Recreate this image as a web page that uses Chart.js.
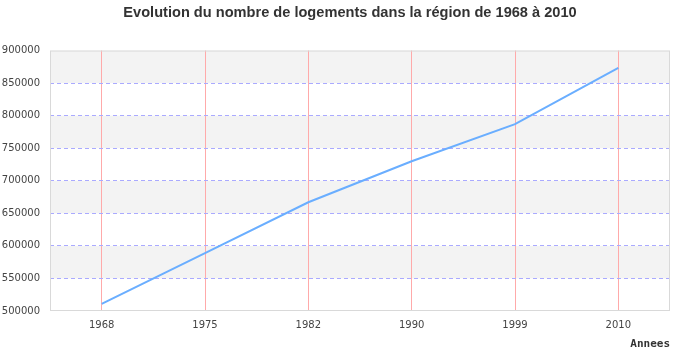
<!DOCTYPE html>
<html>
<head>
<meta charset="utf-8">
<script src="https://cdn.jsdelivr.net/npm/chart.js@4"></script>
<style>
  body { margin: 0; background: #fff; }
  #chart { display: block; }
</style>
</head>
<body>
<canvas id="chart" width="700" height="350"></canvas>
<script>
// data
const annees = ['1968', '1975', '1982', '1990', '1999', '2010'];
const logements = [511000, 589000, 667000, 730000, 787000, 873500];

// grey / white stripes between the y ticks + plot frame
const bandsPlugin = {
  id: 'bands',
  beforeDraw(chart) {
    const { ctx, chartArea, scales } = chart;
    const y = scales.y;
    ctx.save();
    ctx.fillStyle = '#ffffff';
    ctx.fillRect(0, 0, chart.width, chart.height);
    const ticks = y.ticks;
    for (let i = ticks.length - 1; i > 0; i--) {
      // from the top: first band grey, then alternate
      if ((ticks.length - 1 - i) % 2 === 0) {
        const top = y.getPixelForValue(ticks[i].value);
        const bottom = y.getPixelForValue(ticks[i - 1].value);
        ctx.fillStyle = '#f3f3f3';
        ctx.fillRect(chartArea.left, top, chartArea.right - chartArea.left, bottom - top);
      }
    }
    ctx.restore();
  },
  afterDatasetsDraw(chart) {
    const { ctx, chartArea } = chart;
    ctx.save();
    ctx.strokeStyle = '#d9d9d9';
    ctx.lineWidth = 1;
    ctx.strokeRect(chartArea.left + 0.5, chartArea.top + 0.5,
      chartArea.right - chartArea.left - 1, chartArea.bottom - chartArea.top - 1);
    ctx.restore();
  }
};

const chart = new Chart(document.getElementById('chart'), {
  type: 'line',
  data: {
    labels: annees,
    datasets: [{
      label: 'Logements',
      data: logements,
      borderColor: 'rgb(106, 174, 255)',
      borderWidth: 2,
      pointRadius: 0,
      tension: 0,
      fill: false
    }]
  },
  options: {
    responsive: false,
    animation: false,
    layout: { padding: { left: 2, right: 2, top: 0, bottom: 0 } },
    plugins: {
      legend: { display: false },
      tooltip: { enabled: false },
      title: {
        display: true,
        text: 'Evolution du nombre de logements dans la région de 1968 à 2010',
        color: '#333333',
        font: { family: 'Liberation Sans', size: 14.6, weight: 'bold' },
        padding: { top: 4, bottom: 29 }
      }
    },
    scales: {
      x: {
        offset: true,
        grid: {
          color: '#ffaaaa',
          drawTicks: false,
          offset: false
        },
        border: { display: false },
        ticks: {
          color: '#444444',
          padding: 8,
          font: { family: 'DejaVu Sans', size: 10 }
        },
        title: {
          display: true,
          text: 'Annees',
          align: 'end',
          color: '#333333',
          padding: { top: 0, bottom: 0 },
          font: { family: 'DejaVu Sans Mono', size: 11, weight: 'bold', lineHeight: 1 }
        }
      },
      y: {
        min: 500000,
        max: 900000,
        grid: {
          color: ctx => (ctx.index === 0 || ctx.tick.value === 900000) ? 'rgba(0,0,0,0)' : '#aaaaff',
          drawTicks: false
        },
        border: { display: false, dash: [4, 3] },
        ticks: {
          stepSize: 50000,
          color: '#444444',
          padding: 10,
          font: { family: 'DejaVu Sans', size: 10 },
          callback: v => String(v)
        },
        afterFit(scale) { scale.width = 48; }
      },
      // empty right axis, only keeps room on the right like the original
      yRight: {
        position: 'right',
        display: true,
        grid: { display: false, drawTicks: false },
        border: { display: false },
        ticks: { display: false },
        afterFit(scale) { scale.width = 28; }
      }
    }
  },
  plugins: [bandsPlugin]
});
</script>
</body>
</html>
